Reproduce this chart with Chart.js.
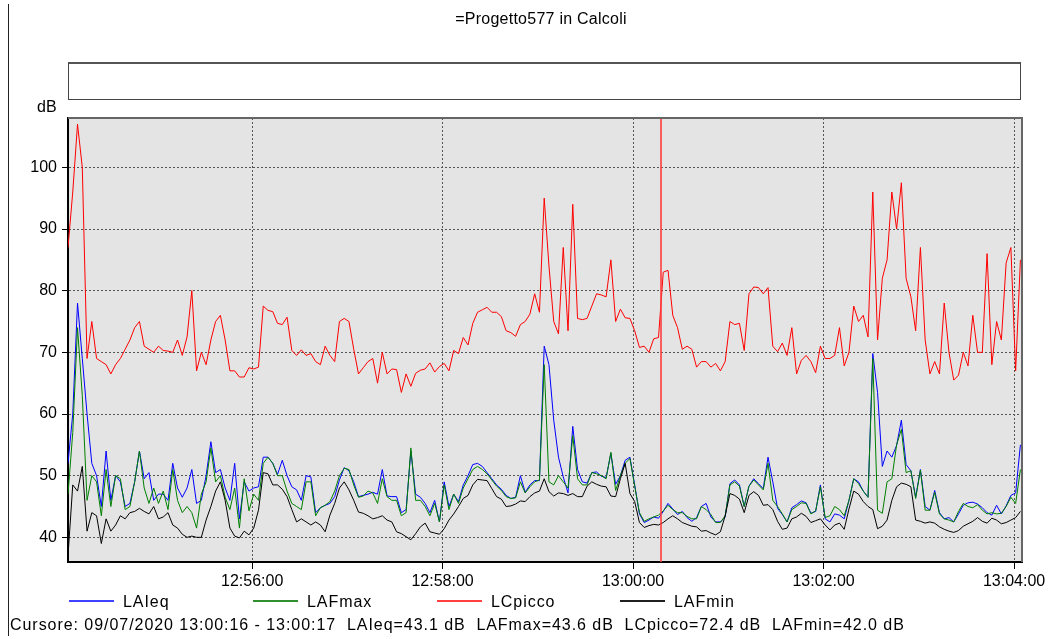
<!DOCTYPE html>
<html>
<head>
<meta charset="utf-8">
<script src="https://cdn.jsdelivr.net/npm/chart.js@4.4.1/dist/chart.umd.min.js"></script>
<style>
body{margin:0;background:#fff;font-family:'Liberation Sans',Arial,sans-serif;}
#contenitore{position:relative;width:1054px;height:639px;overflow:hidden;}
#grafica{position:absolute;left:0;top:0;}
.testo{position:absolute;font-size:16px;color:#000;white-space:pre;line-height:18px;}
.largo{letter-spacing:0.95px;}
.campione{position:absolute;height:2px;}
</style>
</head>
<body>
<div id="contenitore">
  <canvas id="grafica" width="1054" height="639"></canvas>
  <div style="position:absolute;left:8px;top:4px;width:1px;height:632px;background:#222"></div>
  <div class="testo" style="left:341px;top:10px;width:400px;text-align:center;letter-spacing:0.25px">=Progetto577 in Calcoli</div>
  <div style="position:absolute;left:68px;top:62px;width:951px;height:35px;border:1px solid #444;border-top:2px solid #555;background:#fff"></div>
  <div class="testo" style="left:37px;top:98px">dB</div>
  <div id="legenda"></div>
  <div class="testo largo" style="left:10px;top:616px">Cursore: 09/07/2020 13:00:16 - 13:00:17  LAIeq=43.1 dB  LAFmax=43.6 dB  LCpicco=72.4 dB  LAFmin=42.0 dB</div>
</div>
<script>
// dati, un campione ogni 3 secondi
const inizio = '12:54:04';
const fine = '13:04:05';
const passoSecondi = 3;
const cursore = '13:00:16.5';
const etichetteTempo = ['12:56:00', '12:58:00', '13:00:00', '13:02:00', '13:04:00'];
const etichetteDb = [40, 50, 60, 70, 80, 90, 100];
const nomiSerie = ['LAIeq', 'LAFmax', 'LCpicco', 'LAFmin'];
const coloriSerie = ['#0000ff', '#008000', '#ff0000', '#000000'];
const coloriLegenda = ['#4040ff', '#309030', '#ff4040', '#202020'];

const laieq = [
  52, 60, 78, 69, 60, 52, 50, 45, 54, 46, 50, 49, 45, 45.5, 49, 54, 49.5, 50.5, 46, 47, 47, 46, 52, 48, 46.5, 48, 51, 45.5, 46, 50, 55.5, 50.5, 51, 48, 46,
  52, 43, 49, 47.5, 48, 48.2, 53, 53, 52, 50.2, 52.5, 50, 48.2, 47.7, 46, 50, 49.8, 44, 44.8, 45.2, 45.5, 46.6, 49.3, 51.3, 50.8, 49, 46.6, 46.8, 47, 47.3, 47, 51, 46.7, 46.6,
  46.6, 44, 44.5, 54, 47, 46.5, 45.5, 44, 46, 42.5, 49, 45, 47, 45.8, 48.5, 50, 51.8, 52, 51.5, 50.5, 49.5, 48.5, 47.8, 46.8, 46.3, 46.5, 50, 47.3, 48.5, 49.2, 49.2, 71, 68, 59, 53,
  49.8, 47.2, 58, 51, 49, 48.8, 50.5, 50.6, 49.9, 49.7, 53.6, 48.6, 50, 52.5, 53, 48.5, 43.8, 42.4, 42.8, 43.3, 43.1, 44.2, 45.5, 44.6, 43.7, 44.2, 43.2, 42.6, 43.2, 45, 45.5, 43.3, 42.5, 42.5,
  43.3, 48.7, 49.3, 48.5, 45, 48.3, 49.5, 48.7, 47.9, 53, 49, 44.7, 43.7, 42.5, 44.8, 45.3, 45.9, 45.6, 43.9, 44.2, 48.5, 43, 42.5, 43.8, 43.6, 43, 46, 49.5, 49, 47.5, 46.5, 69.8, 63.5, 51.5,
  54, 53, 54.9, 59, 51.8, 50.8, 46.5, 51, 45, 44.4, 47.6, 44, 43, 43.2, 42.5, 43.8, 45.2, 45.6, 45.7, 45.4, 44.8, 44, 43.6, 45.2, 43.8, 45.1, 46.8, 47.2, 55
];
const lafmax = [
  47, 57, 74, 63, 46, 50, 49, 43.5, 51, 45, 50, 49.5, 44.5, 45, 49, 54, 48, 45.5, 48, 45.5, 47.5, 44.5, 51, 46, 44, 45, 44, 41.5, 47, 49, 54.5, 49, 50, 46.5, 44.5,
  48, 41.5, 49.5, 44.3, 47, 46, 52, 53, 52, 50, 50, 47.5, 45.5, 45, 44.5, 49, 49, 43.5, 44.8, 45.2, 45.8, 47.5, 50, 51.2, 51, 48.5, 46.5, 46.7, 47.5, 47.2, 45.5, 49.5, 46.6, 46,
  46, 43.5, 44, 54.5, 46, 46, 45, 43.5, 45.5, 42.5, 48.5, 44.5, 47, 45.5, 48, 49.5, 51, 51.5, 51, 50.3, 49.3, 48.3, 47.6, 46.6, 46.3, 46.4, 49, 47.2, 48.2, 49, 49.3, 68, 49, 48.5, 50,
  49, 48, 56.5, 49.5, 48.5, 48.5, 50.5, 50.3, 50, 49.5, 53.8, 47.6, 50, 52, 52.8, 48.3, 44, 42.6, 43, 43.3, 43.6, 44.3, 45.2, 44.5, 44, 44, 43.4, 43, 43, 45, 44.5, 43.7, 42.4, 42.4,
  43.5, 48.5, 49, 48.3, 45, 48.3, 49.3, 48.5, 47.7, 52, 46, 45, 43.8, 42.5, 44.5, 45, 45.6, 45.5, 43.8, 44.3, 48.2, 43.2, 43.5, 45, 44.5, 43.5, 46, 49.5, 48.7, 47.5, 46.5, 69, 44.4, 43.9,
  49, 49.5, 55, 57.5, 50.5, 50.8, 46.3, 50.9, 44.4, 44.4, 47.3, 43.8, 43, 42.8, 42.5, 44.2, 45.5, 45, 44.8, 45.3, 44.4, 43.8, 44, 43.8, 43.9, 45, 46.5, 45.5, 51
];
const lcpicco = [
  87, 96, 107, 100, 69, 75, 69, 68.5, 68, 66.5, 68, 69, 70.5, 72, 74, 75, 71, 70.5, 70, 71, 70.3, 70.2, 70, 72, 69.5, 72.5, 80, 67, 70, 68, 72, 75, 76, 72, 67,
  67, 66, 66, 67.5, 67.3, 67.6, 77.5, 76.8, 76.6, 74.7, 74.5, 75.7, 70.3, 69.5, 70.4, 69.5, 69.8, 68.5, 68, 71, 69.5, 68.5, 75, 75.5, 75, 70.5, 66.5, 67.5, 68.5, 69, 65, 70, 66.5, 67.3,
  67.2, 63.5, 66.5, 64.5, 66.6, 67.1, 67.3, 68.3, 66.8, 67.7, 68.2, 67, 70.3, 69.8, 72.4, 71.2, 74.7, 76.5, 76.9, 77.3, 76.5, 76.5, 75.8, 73.5, 73.2, 72.6, 74.5, 75, 76.2, 79.5, 76.5, 95, 84, 75, 73,
  87, 73.5, 94, 75.5, 75.3, 75.5, 77.5, 79.5, 79.3, 79, 85, 75, 77, 75.6, 75.5, 73.5, 70.8, 71, 70, 72.2, 72.4, 83, 83.3, 76, 74, 70.5, 71, 70.5, 67.6, 68.5, 68.5, 67.6, 68.2, 67,
  68.5, 75, 74.5, 74.7, 70.3, 79.5, 80.6, 80.5, 79.5, 80.5, 71, 70.1, 71.5, 69.5, 74, 66.5, 68.7, 69.5, 68.5, 66.7, 71, 69, 69, 69.5, 74, 67.8, 70, 77.5, 75, 76, 72.5, 96, 72, 82,
  85, 96, 90, 97.5, 82, 79, 73.5, 87, 72, 66.5, 68.5, 66.5, 78, 70, 65.5, 66.3, 70, 67.8, 76, 70, 70, 86, 68, 75, 72, 84.5, 87, 67, 85
];
const lafmin = [
  37, 48.5, 47.5, 51.5, 41, 44, 43.5, 39, 43, 41, 42, 43.5, 43, 44, 44.2, 44.7, 44.2, 43.8, 45, 43, 43.3, 44, 42, 41.5, 40.5, 40, 40.2, 40, 40, 42.8, 45, 47.5, 49, 46, 41.5,
  40.2, 39.9, 41, 40.4, 41.5, 44.4, 50.5, 50.3, 48.5, 48.5, 47.8, 46.6, 44.5, 42.5, 43, 42.5, 42, 42.5, 42, 40.9, 43.6, 45.5, 48, 49, 47.7, 46, 44.1, 43.9, 43.5, 43, 43.2, 43.5, 42.8, 42.5,
  40.9, 40.6, 40.1, 39.6, 40.6, 41.7, 42.3, 40.9, 40.7, 40.5, 41.4, 42.8, 43.8, 45, 46.3, 46.8, 48.5, 49.4, 49.3, 49.2, 47.9, 46.6, 46.2, 45, 45.1, 45.4, 45.9, 45.8, 46.6, 47.2, 47.5, 49.5, 47.4, 46.7, 47.2,
  47.1, 46.8, 47.1, 46.6, 46.6, 48.3, 49, 48.6, 48.3, 48.2, 46.7, 46.6, 49.5, 52, 47.1, 45.8, 42.4, 41.6, 41.9, 42.1, 42, 42.4, 43, 43.5, 43, 42.4, 42.1, 41.8, 41.7, 41, 41.1, 40.7, 40.4, 40.9,
  43.5, 47.1, 46.8, 46.2, 44, 46.8, 47.4, 46.8, 45.2, 45.3, 44.5, 42.6, 41.3, 41.5, 43, 43.3, 43.9, 43.4, 42.4, 42.7, 43, 42, 41.2, 42, 42.3, 41.3, 44.6, 47.5, 47, 45.8, 45, 44.5, 41.4, 41.8,
  42.8, 46, 48.2, 48.8, 48.6, 48.2, 42.8, 42.6, 42.3, 42.5, 42.3, 41.7, 41.3, 41, 40.8, 41.1, 41.8, 42.2, 42.6, 43.2, 42.6, 42.3, 43.1, 42.8, 42.2, 42.4, 42.8, 43.2, 44.2
];

function secondi(testo){
    var parti = testo.split(':');
    return parseFloat(parti[0])*3600 + parseFloat(parti[1])*60 + parseFloat(parti[2]);
}
function orario(valore){
    var s = Math.round(valore);
    var h = Math.floor(s/3600), m = Math.floor((s%3600)/60), sec = s%60;
    return h+':'+String(m).padStart(2,'0')+':'+String(sec).padStart(2,'0');
}
function punti(valori){
    var t0 = secondi(inizio);
    return valori.map(function(v, i){ return {x: t0 + i*passoSecondi, y: v}; });
}

// legenda in basso
var posizioniLegenda = [69, 253, 437, 620];
var legenda = document.getElementById('legenda');
for (var i = 0; i < nomiSerie.length; i++){
    var linea = document.createElement('div');
    linea.className = 'campione';
    linea.style.left = posizioniLegenda[i]+'px';
    linea.style.top = '600px';
    linea.style.width = '45px';
    linea.style.background = coloriLegenda[i];
    legenda.appendChild(linea);
    var nome = document.createElement('div');
    nome.className = 'testo largo';
    nome.style.left = (posizioniLegenda[i]+54)+'px';
    nome.style.top = '593px';
    nome.textContent = nomiSerie[i];
    legenda.appendChild(nome);
}

const sfondo = {
    id: 'sfondo',
    beforeDraw: function(chart){
        var a = chart.chartArea, ctx = chart.ctx;
        ctx.save();
        ctx.fillStyle = '#e4e4e4';
        ctx.fillRect(a.left, a.top, a.right - a.left, a.bottom - a.top);
        ctx.restore();
    },
    afterDatasetsDraw: function(chart){
        var a = chart.chartArea, ctx = chart.ctx;
        // linea del cursore, larga 2 px su colonna pari
        var x = 2*Math.round(chart.scales.x.getPixelForValue(secondi(cursore))/2);
        ctx.save();
        ctx.fillStyle = 'rgba(255,60,60,0.8)';
        ctx.fillRect(x, a.top, 2, a.bottom - a.top);
        ctx.restore();
    },
    afterDraw: function(chart){
        var a = chart.chartArea, ctx = chart.ctx;
        ctx.save();
        ctx.strokeStyle = '#666';
        ctx.lineWidth = 2;
        ctx.beginPath();
        ctx.moveTo(a.left, a.top);
        ctx.lineTo(a.right, a.top);
        ctx.lineTo(a.right, a.bottom);
        ctx.stroke();
        ctx.restore();
    }
};

Chart.defaults.font.family = "'Liberation Sans', Arial, sans-serif";
Chart.defaults.font.size = 16;
Chart.defaults.color = '#000';

var serie = [laieq, lafmax, lcpicco, lafmin];
var ordini = [4, 3, 2, 1];
var datasets = [];
for (var k = 0; k < serie.length; k++){
    datasets.push({
        label: nomiSerie[k],
        data: punti(serie[k]),
        borderColor: coloriSerie[k],
        backgroundColor: coloriSerie[k],
        borderWidth: 1,
        pointRadius: 0,
        tension: 0,
        order: ordini[k]
    });
}

var ctx = document.getElementById('grafica').getContext('2d');
var myChart = new Chart(ctx, {
    type: 'line',
    data: {datasets: datasets},
    options: {
        responsive: false,
        animation: false,
        parsing: false,
        layout: {padding: {top: 118, right: 32, bottom: 0, left: 0}},
        plugins: {
            legend: {display: false},
            title: {display: false},
            tooltip: {enabled: false}
        },
        scales: {
            x: {
                type: 'linear',
                min: secondi(inizio),
                max: secondi(fine),
                afterBuildTicks: function(scala){
                    scala.ticks = etichetteTempo.map(function(e){ return {value: secondi(e)}; });
                },
                afterFit: function(scala){ scala.height = 77; },
                ticks: {
                    autoSkip: false,
                    maxRotation: 0,
                    padding: 3,
                    callback: function(valore){ return orario(valore); }
                },
                grid: {color: '#555', lineWidth: 1, tickColor: '#000', tickLength: 7, tickBorderDash: []},
                border: {display: true, color: '#000', width: 2, dash: [2, 2]}
            },
            y: {
                min: 36,
                max: 108,
                afterBuildTicks: function(scala){
                    scala.ticks = etichetteDb.map(function(v){ return {value: v}; });
                },
                afterFit: function(scala){ scala.width = 68; },
                ticks: {padding: 5},
                grid: {color: '#555', lineWidth: 1, tickColor: '#000', tickLength: 6, tickBorderDash: []},
                border: {display: true, color: '#000', width: 2, dash: [2, 2]}
            }
        }
    },
    plugins: [sfondo]
});
</script>
</body>
</html>
